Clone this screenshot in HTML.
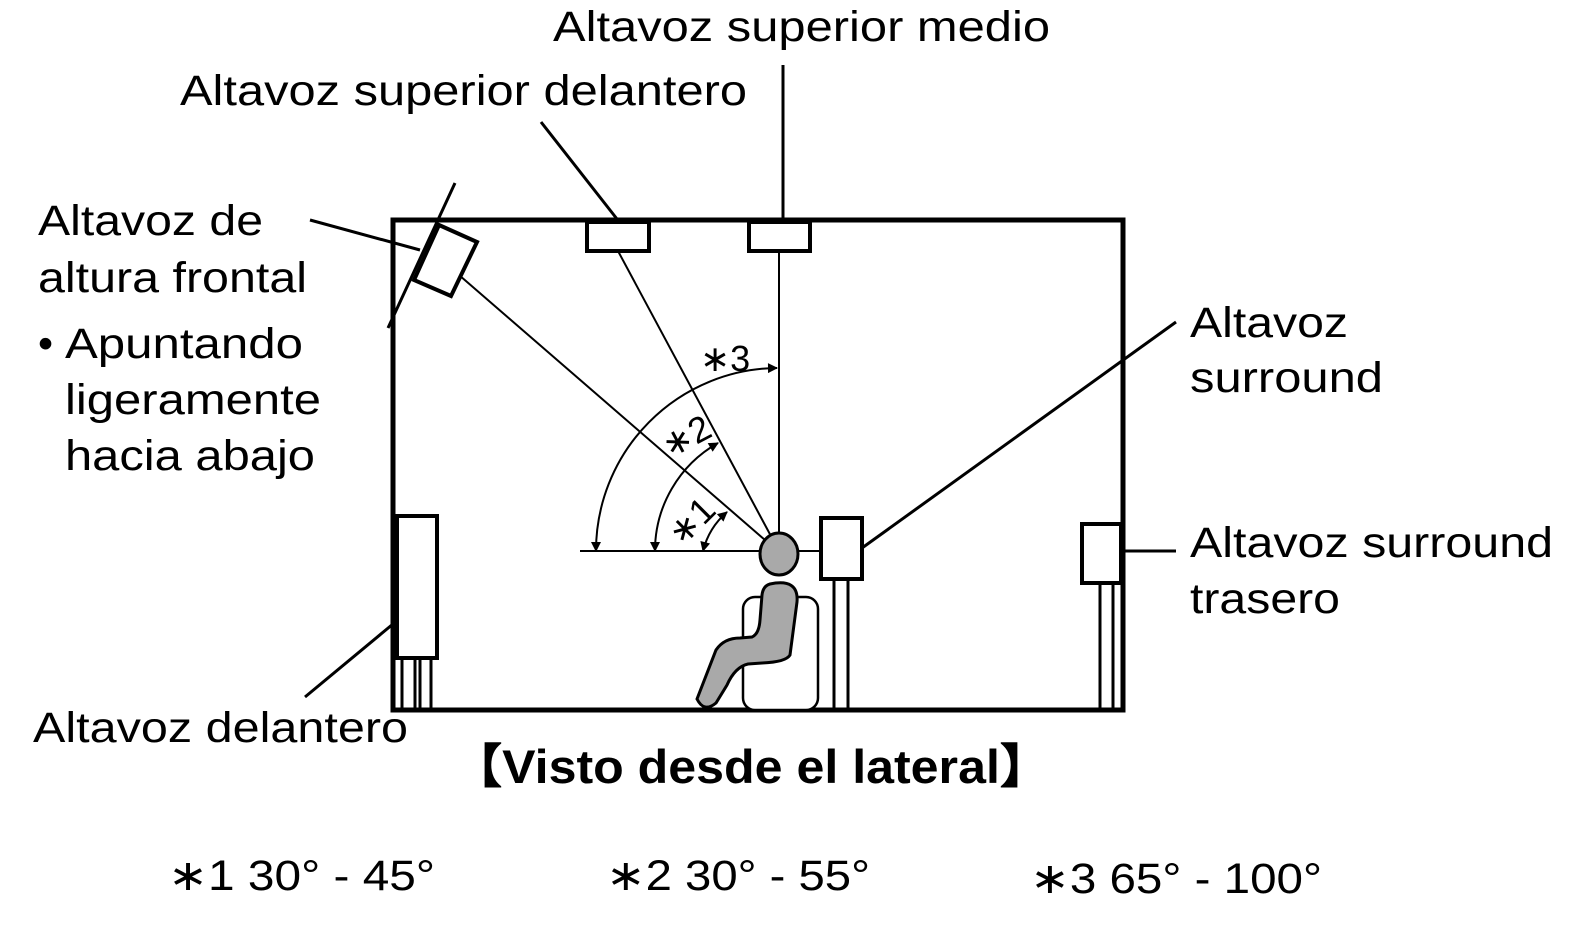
<!DOCTYPE html>
<html><head><meta charset="utf-8"><style>
html,body{margin:0;padding:0;background:#fff;}
svg{display:block;}
text{font-family:"Liberation Sans",Arial,sans-serif;fill:#000;}
</style></head><body>
<svg width="1579" height="930" viewBox="0 0 1579 930" xmlns="http://www.w3.org/2000/svg">
<defs>
<marker id="ah2" viewBox="0 0 10 10" refX="9" refY="5" markerWidth="20" markerHeight="10" orient="auto-start-reverse" markerUnits="userSpaceOnUse"><path d="M0,0 L10,5 L0,10 z" fill="#000"/></marker>
</defs>
<rect x="393" y="220" width="730" height="490" fill="none" stroke="#000" stroke-width="5"/>
<g stroke="#000" stroke-width="3" fill="none">
<line x1="310" y1="220" x2="420" y2="250"/>
<line x1="541" y1="122" x2="617" y2="219"/>
<line x1="783" y1="65" x2="783" y2="219"/>
<line x1="1176" y1="322" x2="862" y2="548"/>
<line x1="1124" y1="551" x2="1176" y2="551"/>
<line x1="305" y1="697" x2="393" y2="624"/>
<line x1="455" y1="183" x2="388" y2="328"/>
</g>
<g stroke="#000" stroke-width="2" fill="none">
<line x1="618" y1="251" x2="772" y2="538"/>
<line x1="779" y1="251" x2="779" y2="534"/>
<line x1="459" y1="275" x2="765" y2="540"/>
<line x1="580" y1="551" x2="822" y2="551"/>
<path d="M 596 551 A 183 183 0 0 1 777 368" marker-start="url(#ah2)" marker-end="url(#ah2)"/>
<path d="M 655 551 A 124 124 0 0 1 718 443" marker-start="url(#ah2)" marker-end="url(#ah2)"/>
<path d="M 703 551 A 76 76 0 0 1 727 512" marker-start="url(#ah2)" marker-end="url(#ah2)"/>
</g>
<g stroke="#000" stroke-width="4" fill="#fff">
<polygon points="439,225 477,242 451,296 414,280"/>
<rect x="587" y="222" width="62" height="29"/>
<rect x="749" y="222" width="61" height="29"/>
<rect x="397" y="516" width="40" height="142"/>
<rect x="821" y="518" width="41" height="61"/>
<rect x="1082" y="524" width="39" height="59"/>
</g>
<g stroke="#000" stroke-width="3">
<line x1="402" y1="658" x2="402" y2="710"/><line x1="415" y1="658" x2="415" y2="710"/><line x1="420" y1="658" x2="420" y2="710"/><line x1="431" y1="658" x2="431" y2="710"/>
<line x1="834" y1="579" x2="834" y2="710"/><line x1="848" y1="579" x2="848" y2="710"/>
<line x1="1100" y1="583" x2="1100" y2="710"/><line x1="1113" y1="583" x2="1113" y2="710"/>
</g>
<rect x="743" y="597" width="75" height="113" rx="12" fill="#fff" stroke="#000" stroke-width="2.5"/>
<path d="M 770 584 Q 799 578 797 602 L 790 655 Q 786 662 762 663 L 748 664 Q 735 667 727 685 L 716 703 Q 704 713 697 699 L 716 650 Q 724 638 740 638 L 752 637 Q 759 634 760 620 L 762 595 Q 763 586 770 584 Z" fill="#a9a9a9" stroke="#000" stroke-width="3"/>
<ellipse cx="779" cy="554" rx="19" ry="21" fill="#a9a9a9" stroke="#000" stroke-width="3"/>
<text x="700" y="371" font-size="36">∗3</text>
<text x="662" y="452" font-size="36" transform="rotate(-28 680 440)">∗2</text>
<text x="662" y="541" font-size="36" transform="rotate(-45 680 520)">∗1</text>
<g font-size="43" lengthAdjust="spacingAndGlyphs">
<text x="553" y="41" textLength="497" lengthAdjust="spacingAndGlyphs">Altavoz superior medio</text>
<text x="180" y="105" textLength="567" lengthAdjust="spacingAndGlyphs">Altavoz superior delantero</text>
<text x="38" y="235" textLength="225" lengthAdjust="spacingAndGlyphs">Altavoz de</text>
<text x="38" y="292" textLength="269" lengthAdjust="spacingAndGlyphs">altura frontal</text>
<text x="38" y="358">•</text>
<text x="65" y="358" textLength="238" lengthAdjust="spacingAndGlyphs">Apuntando</text>
<text x="65" y="414" textLength="256" lengthAdjust="spacingAndGlyphs">ligeramente</text>
<text x="65" y="470" textLength="250" lengthAdjust="spacingAndGlyphs">hacia abajo</text>
<text x="1190" y="337" textLength="158" lengthAdjust="spacingAndGlyphs">Altavoz</text>
<text x="1190" y="392" textLength="193" lengthAdjust="spacingAndGlyphs">surround</text>
<text x="1190" y="557" textLength="363" lengthAdjust="spacingAndGlyphs">Altavoz surround</text>
<text x="1190" y="613" textLength="150" lengthAdjust="spacingAndGlyphs">trasero</text>
<text x="33" y="742" textLength="375" lengthAdjust="spacingAndGlyphs">Altavoz delantero</text>
</g>
<text x="452" y="783" font-size="47" font-weight="bold" textLength="598" lengthAdjust="spacingAndGlyphs">【Visto desde el lateral】</text>
<g font-size="43">
<text x="168" y="890" textLength="267" lengthAdjust="spacingAndGlyphs">∗1 30° - 45°</text>
<text x="606" y="890" textLength="264" lengthAdjust="spacingAndGlyphs">∗2 30° - 55°</text>
<text x="1030" y="893" textLength="292" lengthAdjust="spacingAndGlyphs">∗3 65° - 100°</text>
</g>
</svg>
</body></html>
